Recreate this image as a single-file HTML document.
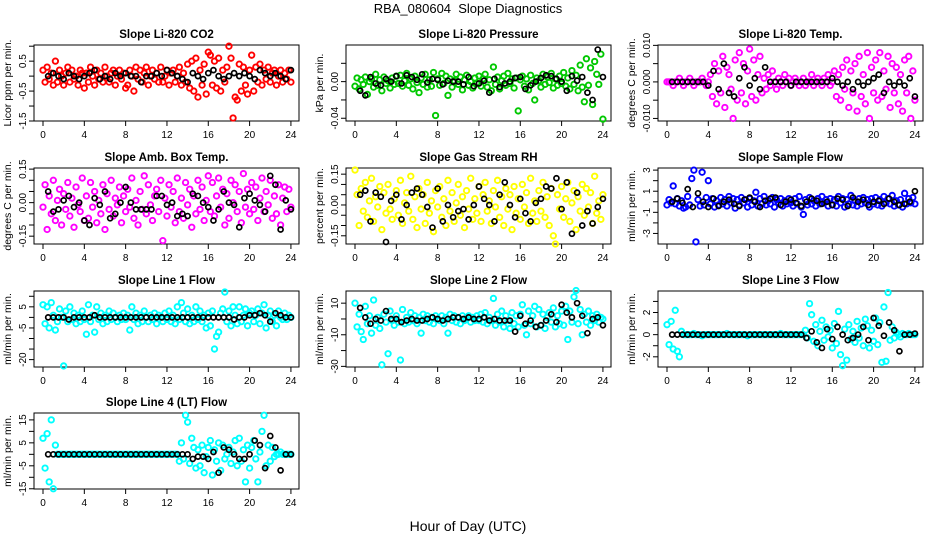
<!DOCTYPE html>
<html><head><meta charset="utf-8"><style>
body{margin:0;background:#fff}
svg{display:block;font-family:"Liberation Sans",sans-serif}
</style></head><body>
<svg id="c" width="936" height="540" xmlns="http://www.w3.org/2000/svg">
<rect width="936" height="540" fill="#fff"/>
<text x="468" y="13" text-anchor="middle" font-size="13" style="white-space:pre">RBA_080604  Slope Diagnostics</text>
<text x="468" y="531" text-anchor="middle" font-size="14">Hour of Day (UTC)</text>
</svg>
<script>
// categories / tick labels
const xTicks = [0,4,8,12,16,20,24];
const titles = ["Slope Li-820 CO2","Slope Li-820 Pressure","Slope Li-820 Temp.","Slope Amb. Box Temp.","Slope Gas Stream RH","Slope Sample Flow","Slope Line 1 Flow","Slope Line 2 Flow","Slope Line 3 Flow","Slope Line 4 (LT) Flow"];
const yTitles = ["Licor ppm per min.","kPa per min.","degrees C per min.","degrees C per min.","percent per min.","ml/min per min.","ml/min per min.","ml/min per min.","ml/min per min.","ml/min per min."];
const colors = ["#ff0000","#00c800","#ff00ff","#ff00ff","#ffff00","#0000ff","#00ffff","#00ffff","#00ffff","#00ffff"];
const yRanges = [[-1.5,1.04],[-0.043,0.040],[-0.0107,0.0101],[-0.185,0.155],[-0.19,0.18],[-4.0,3.2],[-23.5,12.5],[-30.4,17.7],[-2.92,3.94],[-15.1,18]];
const yTickVals = [[-1.5,-1,-0.5,0,0.5,1],[-0.04,-0.02,0,0.02],[-0.01,-0.005,0,0.005,0.01],[-0.15,-0.1,-0.05,0,0.05,0.1,0.15],[-0.15,-0.1,-0.05,0,0.05,0.1,0.15],[-3,-2,-1,0,1,2,3],[-20,-15,-10,-5,0,5,10],[-30,-20,-10,0,10],[-2,-1,0,1,2,3],[-15,-10,-5,0,5,10,15]];
const yTickLabels = [["-1.5","","-0.5","","0.5",""],["-0.04","","0.00",""],["-0.010","","0.000","","0.010"],["-0.15","","","0.00","","","0.15"],["-0.15","","","0.00","","","0.15"],["-3","","-1","","1","","3"],["-20","","","-5","","5",""],["-30","","-10","","10"],["-2","","0","","2",""],["-15","","-5","","5","","15"]];
const scales = [0.1,0.001,0.001,0.01,0.01,0.1,1,1,0.1,1];
// series values (scaled units), colored series spans 0-24 h evenly
const s0 = [2,-2,3,-1,1,-3,5,-2,2,0,-3,1,3,-2,2,-1,0,-3,2,1,-4, 1,-2,3,0,-3,2,-1,1,-2,3,0,-2,1,2,-3,0,2,-1,1,-4, -3,2,0,-5,3,-1,2,-2,1,3,-3,0,2,-1,1,-2,3,-2,0,2, -3,1,2,-2,0,3,-3,1,-2,4,-4,5,-5,6,-7,2,-3,4,-6,8, 7,-3,5,-4,6,-5,2,-2,3,10,6,-14,-7,-8,4,-5,3,-3,-6,2, 7,-5,3,-2,4,-3,2,-1,3,-2,1,2,-3,0,2,-2,1,-1,2,-2];
const s1 = [-5,4,-8,2,-3,5,-14,0,3,-6,8,-4,2,-10,5,-2,1,-7,4,-3,6, -2,7,-5,1,9,-4,3,-8,6,-1,-12,4,-3,8,-6,2,-5,10,-37,3, -4,9,-2,6,-15,3,-6,1,8,-3,5,-9,2,7,-4,0,-7,4,-2,6, -5,3,8,-6,2,-10,16,-3,5,-8,1,6,-4,9,-2,3,-7,4,-32,2, 6,-5,3,-9,7,-2,-20,4,1,-6,8,-3,5,-1,9,-7,3,-4,6,-2, 10,-5,4,-8,12,-3,7,-10,18,-6,-22,25,-4,15,-25,22,8,-3,30,-41];
const s2 = [0,0,0,-1,0,0,1,0,-1,0,0,1,0,-1,0,0,0,1,0,-1,0, 2,-4,5,-6,3,-3,7,-7,4,2,-2,-10,6,-5,8,-3,5,-6,3,9, -4,6,-5,2,7,-3,1,-2,2,-1,3,0,-2,1,0,-1,2,0,1,-1, 0,1,0,-1,0,1,-1,0,0,2,-1,0,1,0,-1,1,0,2,-1,0, 3,-4,2,-5,4,-2,6,-7,3,-3,5,-8,7,-4,2,-6,8,-10,4,-3, 6,-5,8,-4,3,-2,7,-7,5,-3,4,-6,2,-8,6,-3,7,-10,3,-5];
const s3 = [-2,8,-12,3,-5,10,-8,1,6,-10,4,-3,9,-6,2,-11,7,-1,-4,11,-8, 3,-7,9,-2,5,-9,1,-5,8,-12,4,-3,10,-6,2,-1,7,-9,3,-4, 6,-2,11,-7,1,-10,5,-3,12,-5,8,-1,-8,3,6,-4,10,-17,2,-6, 8,-2,5,-9,11,-4,2,-7,9,-1,6,-11,3,-5,10,-3,7,-8,1,12, -4,9,-6,3,11,-2,6,-10,4,-7,10,0,8,-4,5,-9,13,-2,6,-5, 9,-3,7,-8,2,11,-4,5,-1,10,-7,3,-5,8,-10,2,7,-4,6,-2];
const s4 = [17,5,-10,8,-3,11,-6,2,13,-8,4,-1,9,-12,6,-4,10,-2,-7,3,7, -5,12,-9,1,6,-3,14,-7,4,-11,8,-2,5,-9,11,-4,2,-13,7,-1, 9,-6,3,-10,12,-3,6,-8,1,10,-5,4,-11,7,-2,13,-7,3,-4,9, -8,5,11,-3,2,-9,7,-1,12,-6,4,-10,8,-2,5,-12,9,-4,3,-7, 10,-1,6,-9,13,-4,2,-8,7,-3,11,-6,4,-10,8,-15,-19,5,-2,9, -6,3,11,-8,1,7,-12,4,-3,10,-5,8,-1,6,-9,14,-4,2,-7,5];
const s5 = [-3,2,-1,15,-2,3,-4,1,-6,-5,5,-3,22,30,-38,2,-4,28,-3,4,20, -2,3,-5,1,-3,4,-2,2,-4,5,-1,3,-6,2,-3,4,-1,2,-5,3, -3,1,9,-4,3,-2,5,-3,1,-2,4,-5,2,-1,3,-4,1,-2,3,-1, -4,3,-2,5,-5,-12,2,-3,4,-2,1,-4,3,-2,5,-1,2,-4,3,-3, 2,-4,5,-1,3,-5,2,-2,6,-3,1,-4,3,-2,4,-1,2,-5,3,-2, 4,-3,2,-4,5,-1,3,-2,6,-4,1,-3,2,-5,8,-2,3,-1,4,-2];
const s6 = [6,-3,5,-5,7,1,-6,-2,4,0,-23,3,-2,5,-1,2,-3,1,-2,3,-1, -8,6,-2,1,-7,5,-1,2,-3,1,-2,3,-1,2,0,-2,1,-1,2,-1, 1,-6,5,-1,2,-3,1,-2,3,0,-2,1,-1,2,-3,1,0,-2,2,-1, 3,-2,1,-3,5,-1,7,2,-2,4,-3,1,-2,5,-1,3,-2,1,-5,2, -4,3,-15,-9,-7,2,4,12,-2,3,-4,5,1,-3,5,-2,1,4,-4,2, 3,-2,1,4,-3,2,6,-5,1,3,-2,1,-4,3,0,-1,2,-1,1,0];
const s7 = [10,-5,3,-8,-13,8,-3,2,-9,12,-4,1,-6,-29,3,-2,-22,5,-1,-4,2, -2,-26,6,-3,1,-2,4,-1,2,-3,1,-9,3,-1,2,-2,1,-3,2,0, -1,2,-3,1,-9,3,-1,2,-2,1,-3,2,-1,0,2,-2,1,-1,2,-1, 3,-2,4,-3,1,-1,13,-4,3,-2,5,-5,2,-1,-6,4,-3,2,-5,3, 9,-4,-10,5,-3,2,8,-5,6,-4,3,-6,1,4,-2,7,-5,2,-3,5, -4,8,-13,5,-2,14,18,-3,6,-10,3,-2,5,-4,2,-1,3,-2,1,0];
const s8 = [9,-9,12,-13,22,-15,-20,3,0,0,0,0,0,1,0,0,0,-1,0,0,0, 0,0,0,0,0,0,0,0,1,0,0,0,0,0,0,0,0,0,-1,0, 0,0,0,0,0,0,0,0,0,0,0,0,0,0,1,0,0,0,0,0, 0,0,0,0,0,0,4,-3,28,18,-6,9,-10,3,13,-5,7,-2,4,-12, 10,-8,21,-18,-28,5,-23,9,-4,3,-7,12,-3,6,-10,14,8,-12,4,-6, 15,-9,11,-25,25,-24,38,-5,7,-3,2,0,-2,1,0,0,1,0,0,0];
const s9 = [7,-6,9,-12,15,-15,4,0,0,0,0,0,0,0,0,0,0,0,0,0,0, 0,0,0,0,0,0,0,0,0,0,0,0,0,0,0,0,0,0,0,0, 0,0,0,0,0,0,0,0,0,0,0,0,0,0,0,0,0,0,0,0, 0,0,0,0,0,-3,5,-2,17,14,-4,7,3,-6,2,-5,4,-8,-1,3, 6,-9,2,-3,5,-7,4,-2,0,3,-4,1,6,-5,7,-3,2,-12,4,-6, 3,6,-2,-12,1,10,17,-5,4,-3,3,-1,0,0,1,0,0,0,0,0];
// black (hourly-mean) series, every 0.5 h from 0.5 to 24
const b0 = [0,1,0,-1,1,0,-1,0,1,2,-1,0,-1,1,0,1,0,0,-2,0,0,1,0,2,1,0,-1,-2,1,0,-1,1,2,0,-1,0,1,0,1,0,-1,2,1,0,1,0,-1,2];
const b1 = [-10,-15,5,-2,-4,3,0,6,-2,7,5,2,8,-1,3,2,-3,1,0,0,-3,5,-5,-2,1,-12,3,-6,-2,0,4,5,-8,-4,0,4,7,6,3,0,-10,6,1,5,-12,-20,35,5];
const b2 = [0,0,0,0,0,0,0,-1,3,-2,5,-3,-4,1,4,-1,1,-2,4,0,0,0,0,-1,0,0,0,0,0,0,0,1,0,-1,0,-2,0,-1,0,1,2,-3,0,-1,0,-1,1,-4];
const b3 = [5,-4,-3,1,3,-2,0,-8,-10,2,-1,5,-7,-5,0,7,0,-3,-3,-3,-3,3,3,-1,0,-6,-5,-6,4,3,0,-2,-8,-3,5,0,-1,-11,2,4,1,-1,-4,12,8,-12,1,-3];
const b4 = [5,7,-8,6,4,-18,2,5,-7,0,6,8,5,-1,-11,8,-8,0,-6,-3,-2,-7,0,9,3,0,-8,5,11,0,-6,3,-4,-8,1,3,9,8,13,-2,11,-14,6,-10,-3,-9,-1,3];
const b5 = [0,3,-1,12,-5,8,0,-5,3,-4,0,2,-2,-4,2,4,0,-5,1,3,4,-3,0,2,-1,-4,0,3,1,-2,0,-3,3,2,-4,4,0,2,-3,0,1,-2,3,0,-3,-2,0,10];
const b6 = [0,0,0,0,-1,0,0,0,0,1,0,0,0,0,0,0,0,0,0,0,0,0,0,0,0,0,0,0,0,0,0,0,0,0,0,0,-1,0,0,1,1,2,1,-2,2,1,0,0];
const b7 = [7,1,-3,0,-1,5,0,0,-2,-1,0,-1,-1,0,1,0,-1,0,1,1,0,1,0,0,1,-1,0,-1,-1,-1,-8,2,-3,-1,-5,-4,-1,3,-2,9,4,1,10,2,-9,0,1,-4];
const b8 = [0,0,0,0,0,0,0,0,0,0,0,0,0,0,0,0,0,0,0,0,0,0,0,0,0,0,-3,3,-7,-12,5,-4,7,0,-5,-3,0,7,-5,15,8,-1,11,4,-15,0,0,1];
const b9 = [0,0,0,0,0,0,0,0,0,0,0,0,0,0,0,0,0,0,0,0,0,0,0,0,0,0,0,0,-2,-1,-1,-2,1,-8,3,2,0,-2,-2,0,6,4,-6,8,3,-7,0,0];
const colSeries = [s0,s1,s2,s3,s4,s5,s6,s7,s8,s9];
const blkSeries = [b0,b1,b2,b3,b4,b5,b6,b7,b8,b9];

const NS = "http://www.w3.org/2000/svg";
const svg = document.getElementById('c');
const boxLefts = [34,346,658], boxTops = [45,168,291,413];
const BW = 265, BH = 76;
function mk(tag, attrs, parent){ const e=document.createElementNS(NS,tag); for(const k in attrs) e.setAttribute(k,attrs[k]); (parent||svg).appendChild(e); return e; }

for(let p=0;p<10;p++){
  const L = boxLefts[p%3], T = boxTops[Math.floor(p/3)];
  const g = mk('g',{});
  
  
  const xs = h => L + 9 + h*10.33;
  const [y0,y1] = yRanges[p];
  const ys = v => T + BH - (v - y0)/(y1 - y0)*BH;
  const t = mk('text',{x:L+BW/2,y:T-7,'text-anchor':'middle','font-size':11.5,'font-weight':'bold'},g);
  t.textContent = titles[p];
  
  
  const xa = mk('g',{},g);
  
  
  mk('line',{x1:xs(0),x2:xs(24),y1:T+BH,y2:T+BH,stroke:'#000'},xa);
  xTicks.forEach(h=>{
    mk('line',{x1:xs(h),x2:xs(h),y1:T+BH,y2:T+BH+5,stroke:'#000'},xa);
    const tl = mk('text',{x:xs(h),y:T+BH+17,'text-anchor':'middle','font-size':10},xa);
    tl.textContent = h;
    
    
  });
  const ya = mk('g',{},g);
  
  
  const tv = yTickVals[p];
  mk('line',{x1:L,x2:L,y1:ys(tv[0]),y2:ys(tv[tv.length-1]),stroke:'#000'},ya);
  tv.forEach((v,i)=>{
    mk('line',{x1:L-5,x2:L,y1:ys(v),y2:ys(v),stroke:'#000'},ya);
    const lab = yTickLabels[p][i];
    if(lab){
      const tl = mk('text',{x:0,y:0,'text-anchor':'middle','font-size':10,transform:`translate(${L-8},${ys(v)}) rotate(-90)`},ya);
      tl.textContent = lab;
      
      
    }
  });
  const yt = mk('text',{x:0,y:0,'text-anchor':'middle','font-size':10.5,transform:`translate(${L-23},${T+BH/2}) rotate(-90)`},g);
  yt.textContent = yTitles[p];
  
  
  const bx = mk('rect',{x:L,y:T,width:BW,height:BH,fill:'none',stroke:'#000'},g);
  
  
  const cs = colSeries[p], sc = scales[p];
  const cg = mk('g',{fill:'none',stroke:colors[p],'stroke-width':1.9},g);
  
  
  cs.forEach((v,i)=>{
    const h = i*24/(cs.length-1);
    const c = mk('circle',{cx:xs(h),cy:ys(v*sc),r:2.7},cg);
    
    
  });
  const bs = blkSeries[p];
  const bg = mk('g',{fill:'none',stroke:'#000','stroke-width':1.7},g);
  
  
  bs.forEach((v,i)=>{
    const h = (i+1)*24/bs.length;
    const c = mk('circle',{cx:xs(h),cy:ys(v*sc),r:2.5},bg);
    
    
  });
}
</script>
</body></html>
